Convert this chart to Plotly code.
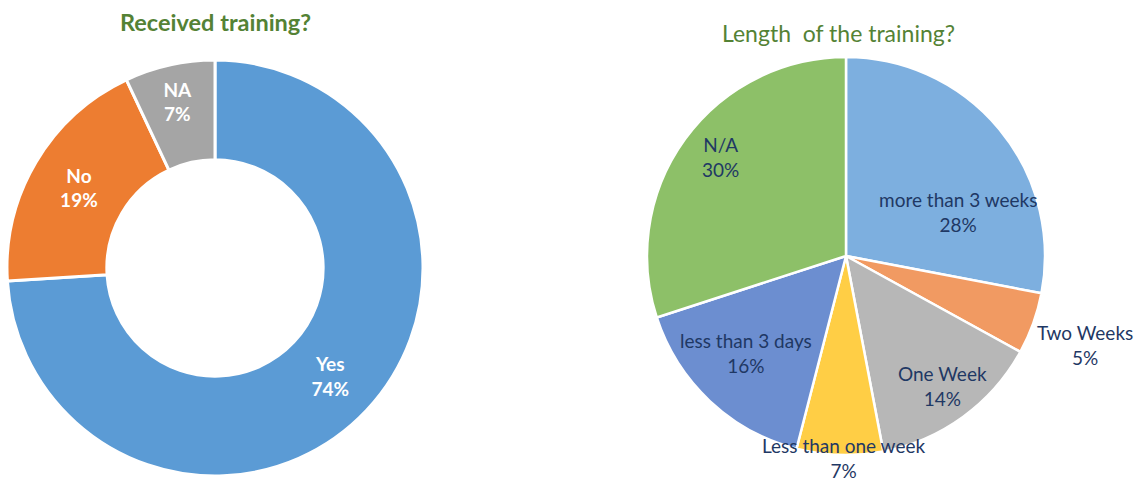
import plotly.graph_objects as go

# Data
train_labels = ["Yes", "No", "NA"]
train_values = [74, 19, 7]
train_colors = ["#5B9BD5", "#ED7D31", "#A5A5A5"]

length_labels = ["more than 3 weeks", "Two Weeks", "One Week",
                 "Less than one week", "less than 3 days", "N/A"]
length_values = [28, 5, 14, 7, 16, 30]
length_colors = ["#7DAFDF", "#F19A62", "#B7B7B7", "#FFCE45", "#6C8ED0", "#8DC068"]

# label anchor positions (pixels from top-left), layout only
length_label_pos = [(958, 212), (1085, 345), (942, 386),
                    (843, 458), (746, 353), (720, 157)]

W, H = 1135, 481
FONT = "Lato"
NAVY = "#1F3864"

def dom(cx, cy, r):
    return dict(x=[(cx - r) / W, (cx + r) / W],
                y=[(H - cy - r) / H, (H - cy + r) / H])

fig = go.Figure()

fig.add_trace(go.Pie(
    labels=train_labels, values=train_values, hole=0.52,
    sort=False, direction="clockwise", rotation=0,
    marker=dict(colors=train_colors, line=dict(color="white", width=3)),
    texttemplate="<b>%{label}</b><br><b>%{percent:.0%}</b>",
    textposition="inside", insidetextorientation="horizontal",
    textfont=dict(family=FONT, size=19, color="white"),
    domain=dom(215, 268, 208), showlegend=False,
))

fig.add_trace(go.Pie(
    labels=length_labels, values=length_values,
    sort=False, direction="clockwise", rotation=0,
    marker=dict(colors=length_colors, line=dict(color="white", width=2.5)),
    textinfo="none",
    domain=dom(846, 256, 199), showlegend=False, automargin=False,
))

total = sum(length_values)
annotations = [
    dict(text="<b>Received training?</b>", x=215 / W, y=1 - 22 / H,
         xref="paper", yref="paper", showarrow=False, xanchor="center", yanchor="middle",
         font=dict(family=FONT, size=23.5, color="#548235")),
    dict(text="Length  of the training?", x=838 / W, y=1 - 33 / H,
         xref="paper", yref="paper", showarrow=False, xanchor="center", yanchor="middle",
         font=dict(family=FONT, size=23, color="#548235")),
]
for lab, val, (px, py) in zip(length_labels, length_values, length_label_pos):
    annotations.append(dict(
        text=f"{lab}<br>{round(100 * val / total)}%",
        x=px / W, y=1 - py / H, xref="paper", yref="paper",
        showarrow=False, xanchor="center", yanchor="middle",
        font=dict(family=FONT, size=19, color=NAVY),
    ))

fig.update_layout(
    width=W, height=H,
    margin=dict(l=0, r=0, t=0, b=0, autoexpand=False),
    showlegend=False,
    paper_bgcolor="white", plot_bgcolor="white",
    font=dict(family=FONT),
    annotations=annotations,
)

fig.write_html("out.html", config={"displayModeBar": False},
               post_script="document.body.style.margin='0';document.body.style.overflow='hidden';")
